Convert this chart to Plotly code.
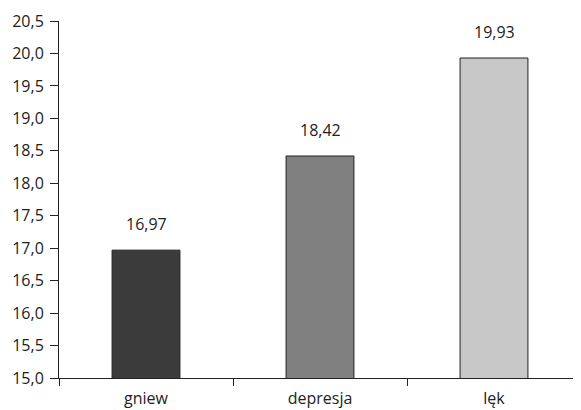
import plotly.graph_objects as go

categories = ["gniew", "depresja", "lęk"]
values = [16.97, 18.42, 19.93]
colors = ["#3b3b3b", "#808080", "#c8c8c8"]
y_ticks = [15.0, 15.5, 16.0, 16.5, 17.0, 17.5, 18.0, 18.5, 19.0, 19.5, 20.0, 20.5]
y_tick_labels = [f"{v:.1f}".replace(".", ",") for v in y_ticks]
value_labels = [f"{v:.2f}".replace(".", ",") for v in values]

font = dict(family="Open Sans", size=16, color="#222222")

fig = go.Figure()
fig.add_trace(go.Bar(
    x=categories, y=values,
    marker=dict(color=colors, line=dict(color="#222222", width=1)),
    width=0.39,
    hoverinfo="skip",
))
for c, v, t in zip(categories, values, value_labels):
    fig.add_annotation(x=c, y=v, text=t, showarrow=False, yanchor="bottom",
                       yshift=13, font=font)

fig.update_layout(
    width=573, height=402,
    margin=dict(l=51, r=0, t=13, b=32),
    paper_bgcolor="white", plot_bgcolor="white",
    showlegend=False,
    font=font,
    xaxis=dict(
        showline=True, linecolor="#222222", linewidth=1,
        ticks="outside", tickson="boundaries", ticklen=7, tickcolor="#222222",
        showgrid=False, tickfont=font, range=[-0.5, 2.5],
        ticklabelstandoff=6,
    ),
    yaxis=dict(
        range=[15, 20.5], tickvals=y_ticks, ticktext=y_tick_labels,
        showline=True, linecolor="#222222", linewidth=1,
        ticks="outside", ticklen=8, tickcolor="#222222",
        showgrid=False, zeroline=False, tickfont=font,
        ticklabelstandoff=3,
    ),
)
fig.write_html("out.html")
